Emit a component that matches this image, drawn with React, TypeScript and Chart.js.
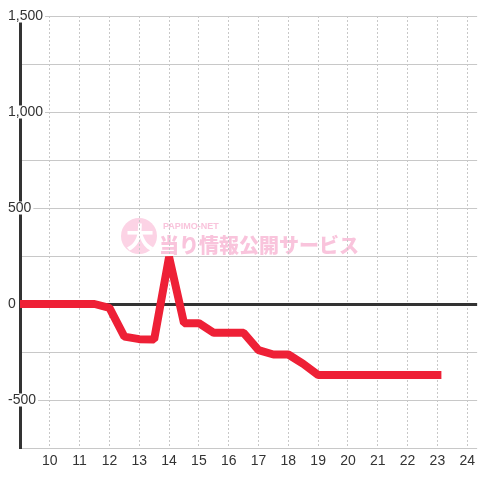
import React, { useEffect, useRef } from "react";
import { Chart, registerables } from "chart.js";

Chart.register(...registerables);

// Time of day (hours) and balance values
const hours = [9, 9.5, 10, 10.5, 11, 11.5, 12, 12.5, 13, 13.5, 14, 14.5, 15, 15.5, 16, 16.5, 17, 17.5, 18, 18.5, 19, 19.5, 20, 20.5, 21, 21.5, 22, 22.5, 23];
const values = [0, 0, 0, 0, 0, 0, -20, -170, -183, -185, 245, -100, -100, -150, -150, -150, -240, -263, -263, -312, -370, -370, -370, -370, -370, -370, -370, -370, -370];

const xTickLabels = [10, 11, 12, 13, 14, 15, 16, 17, 18, 19, 20, 21, 22, 23, 24];
const yTickLabels = [-500, 0, 500, 1000, 1500];

const watermarkSmall = "PAPIMO-NET";
const watermarkIcon = "大";
const watermarkMain = "当り情報公開サービス";

const FONT = "'Liberation Sans', Arial, sans-serif";

const watermarkPlugin = {
  id: "watermark",
  beforeDraw(chart: any) {
    const ctx = chart.ctx;
    ctx.save();
    ctx.fillStyle = "#fcd3e5";
    ctx.beginPath();
    ctx.arc(139, 236, 18, 0, Math.PI * 2);
    ctx.fill();
    ctx.fillStyle = "#ffffff";
    ctx.font = "bold 28px 'Noto Sans CJK JP'";
    ctx.textAlign = "center";
    ctx.textBaseline = "middle";
    ctx.fillText(watermarkIcon, 140, 237);
    ctx.fillStyle = "#f9c4dc";
    ctx.textAlign = "left";
    ctx.font = "bold 9px " + FONT;
    ctx.fillText(watermarkSmall, 163, 227);
    ctx.font = "900 20px 'Noto Sans CJK JP'";
    ctx.fillText(watermarkMain, 159, 245);
    ctx.restore();
  },
};

export default function App() {
  const ref = useRef<HTMLCanvasElement>(null);
  useEffect(() => {
    if (!ref.current) return;
    const chart = new Chart(ref.current, {
      type: "line",
      data: {
        datasets: [
          {
            data: hours.map((h, i) => ({ x: h, y: values[i] })),
            borderColor: "#ee2036",
            borderWidth: 8,
            pointRadius: 0,
            pointHoverRadius: 0,
            tension: 0,
            fill: false,
            borderJoinStyle: "bevel",
            borderCapStyle: "square",
          },
        ],
      },
      options: {
        animation: false,
        responsive: true,
        maintainAspectRatio: false,
        layout: { padding: { top: 16, left: 20, right: 0, bottom: 0 } },
        plugins: { legend: { display: false }, tooltip: { enabled: false } },
        scales: {
          x: {
            type: "linear",
            min: 9,
            max: 24.333,
            afterFit: (s: any) => {
              s.height = 32;
            },
            border: { display: false, dash: [2, 2] },
            grid: {
              color: "#c8c8c8",
              lineWidth: 1,
              drawTicks: false,
            },
            ticks: {
              stepSize: 1,
              includeBounds: false,
              padding: 5,
              color: "#333333",
              font: { family: FONT, size: 14 },
              maxRotation: 0,
              autoSkip: false,
              callback: (v: any) => (xTickLabels.includes(Number(v)) ? String(v) : ""),
            },
          },
          y: {
            type: "linear",
            min: -750,
            max: 1500,
            afterFit: (s: any) => {
              s.width = 0;
            },
            border: { display: true, color: "#333333", width: 3 },
            grid: {
              drawTicks: false,
              color: (c: any) => (c.tick && c.tick.value === 0 ? "#333333" : "#c8c8c8"),
              lineWidth: (c: any) => (c.tick && c.tick.value === 0 ? 3 : 1),
            },
            ticks: {
              stepSize: 250,
              mirror: true,
              padding: -12,
              color: "#333333",
              font: { family: FONT, size: 14, lineHeight: 0.93 },
              showLabelBackdrop: true,
              backdropColor: "#ffffff",
              backdropPadding: { left: 2, right: 2, top: 0, bottom: 0 },
              callback: (v: any) =>
                yTickLabels.includes(Number(v)) ? Number(v).toLocaleString("en-US") : "",
            } as any,
          },
        },
      },
      plugins: [watermarkPlugin],
    } as any);
    return () => chart.destroy();
  }, []);
  return (
    <div style={{ position: "absolute", left: 0, top: 0, width: 480, height: 480, background: "#fff" }}>
      <canvas ref={ref} />
    </div>
  );
}
